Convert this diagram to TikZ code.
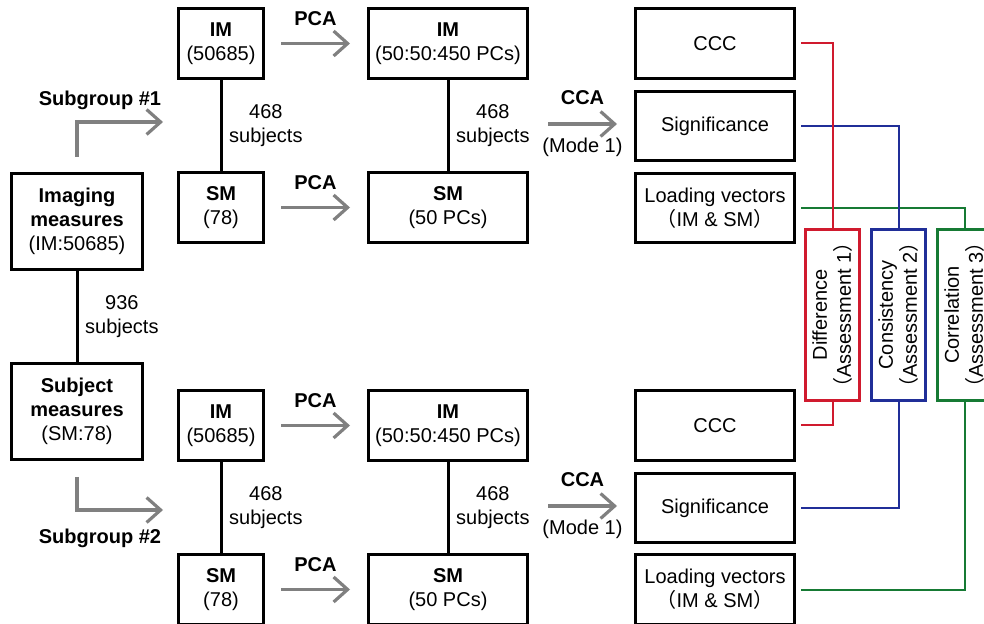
\documentclass[tikz,border=0pt]{standalone}
\usepackage{fontspec}
\setmainfont{Liberation Sans}
\newfontfamily\cjk{Noto Sans CJK SC}
\usetikzlibrary{arrows.meta}
\definecolor{arrgray}{RGB}{128,128,128}
\definecolor{diffred}{RGB}{208,26,46}
\definecolor{consblue}{RGB}{32,46,152}
\definecolor{corrgreen}{RGB}{22,122,52}
\newcommand{\lpar}{{\cjk （}}
\newcommand{\rpar}{{\cjk ）}}

\begin{document}
\begin{tikzpicture}[x=0.5pt,y=-0.5pt,
  font=\fontsize{10}{12}\selectfont,
  box/.style={draw=black, line width=1.5pt, align=center, inner sep=0pt},
  smallbox/.style={box, minimum width=42.5pt, minimum height=35pt},
  pcbox/.style={box, minimum width=79.5pt, minimum height=35pt},
  bigbox/.style={box, minimum width=65.5pt, minimum height=48pt},
  assess/.style={draw, line width=1.3pt, rotate=90, align=center, inner sep=0pt,
    minimum width=85.5pt, minimum height=27pt},
  flow/.style={draw=arrgray, line width=1.6pt,
    -{Straight Barb[length=7pt, width=12.5pt, line width=1.6pt]}},
  link/.style={line width=1.5pt},
  lead/.style={line width=1pt}]
\path[use as bounding box, clip] (0,0) rectangle (984,624);

\node[bigbox] (img) at (77,221.5) {\textbf{Imaging}\\\textbf{measures}\\(IM:50685)};
\node[bigbox] (subj) at (77,411.5) {\textbf{Subject}\\\textbf{measures}\\(SM:78)};

\node[smallbox] (im1) at (221,43.5) {\textbf{IM}\\(50685)};
\node[smallbox] (sm1) at (221,207.5) {\textbf{SM}\\(78)};
\node[pcbox] (pim1) at (448,43.5) {\textbf{IM}\\(50:50:450 PCs)};
\node[pcbox] (psm1) at (448,207.5) {\textbf{SM}\\(50 PCs)};
\node[pcbox] (ccc1) at (715,43.5) {CCC};
\node[pcbox, minimum height=34.5pt] (sig1) at (715,126) {Significance};
\node[pcbox, minimum height=34.5pt] (load1) at (715,208) {Loading vectors\\\lpar IM \& SM\rpar};

\node[smallbox] (im2) at (221,425.5) {\textbf{IM}\\(50685)};
\node[smallbox] (sm2) at (221,589.5) {\textbf{SM}\\(78)};
\node[pcbox] (pim2) at (448,425.5) {\textbf{IM}\\(50:50:450 PCs)};
\node[pcbox] (psm2) at (448,589.5) {\textbf{SM}\\(50 PCs)};
\node[pcbox] (ccc2) at (715,425.5) {CCC};
\node[pcbox, minimum height=34.5pt] (sig2) at (715,508) {Significance};
\node[pcbox] (load2) at (715,589.5) {Loading vectors\\\lpar IM \& SM\rpar};

\node[assess, draw=diffred] (diff) at (832.5,315) {Difference\\\lpar Assessment 1\rpar};
\node[assess, draw=consblue] (cons) at (898.5,315) {Consistency\\\lpar Assessment 2\rpar};
\node[assess, draw=corrgreen] (corr) at (964.5,315) {Correlation\\\lpar Assessment 3\rpar};

\draw[link] (img) -- (subj) node[midway, right, align=center] {936\\subjects};
\draw[link] (im1) -- (sm1) node[midway, right, align=center] {468\\subjects};
\draw[link] (pim1) -- (psm1) node[midway, right, align=center] {468\\subjects};
\draw[link] (im2) -- (sm2) node[midway, right, align=center] {468\\subjects};
\draw[link] (pim2) -- (psm2) node[midway, right, align=center] {468\\subjects};

\coordinate (sg1) at (163,122);
\coordinate (sg2) at (163,510);
\draw[flow] ([yshift=7.5pt]img.north) |- (sg1);
\draw[flow] ([yshift=-8pt]subj.south) |- (sg2);
\node[font=\fontsize{10}{12}\selectfont\bfseries] (sg1lbl) at (100,100) {Subgroup \#1};
\node[font=\fontsize{10}{12}\selectfont\bfseries] (sg2lbl) at (100,538) {Subgroup \#2};

\draw[flow] ([xshift=8pt]im1.east) -- ([xshift=-8.5pt]pim1.west) node[midway, above=5pt, font=\bfseries] {PCA};
\draw[flow] ([xshift=8pt]sm1.east) -- ([xshift=-8.5pt]psm1.west) node[midway, above=5pt, font=\bfseries] {PCA};
\draw[flow] ([xshift=8pt]im2.east) -- ([xshift=-8.5pt]pim2.west) node[midway, above=5pt, font=\bfseries] {PCA};
\draw[flow] ([xshift=8pt]sm2.east) -- ([xshift=-8.5pt]psm2.west) node[midway, above=5pt, font=\bfseries] {PCA};

\coordinate (cca1) at (pim1.east |- sig1.west);
\coordinate (cca2) at (pim2.east |- sig2.west);
\draw[flow] ([xshift=9.5pt,yshift=1pt]cca1) -- ([xshift=-8.5pt,yshift=1pt]sig1.west)
  node[midway, above=5.5pt, font=\bfseries] {CCA}
  node[midway, below=3pt] {(Mode 1)};
\draw[flow] ([xshift=9.5pt,yshift=1pt]cca2) -- ([xshift=-8.5pt,yshift=1pt]sig2.west)
  node[midway, above=5.5pt, font=\bfseries] {CCA}
  node[midway, below=3pt] {(Mode 1)};

\draw[lead, corrgreen] ([xshift=2.5pt]load1.east) -| (corr.east);
\draw[lead, corrgreen] ([xshift=2.5pt]load2.east) -| (corr.west);
\draw[lead, consblue] ([xshift=2.5pt]sig1.east) -| (cons.east);
\draw[lead, consblue] ([xshift=2.5pt]sig2.east) -| (cons.west);
\draw[lead, diffred] ([xshift=2.5pt]ccc1.east) -| (diff.east);
\draw[lead, diffred] ([xshift=2.5pt]ccc2.east) -| (diff.west);
\end{tikzpicture}
\end{document}
